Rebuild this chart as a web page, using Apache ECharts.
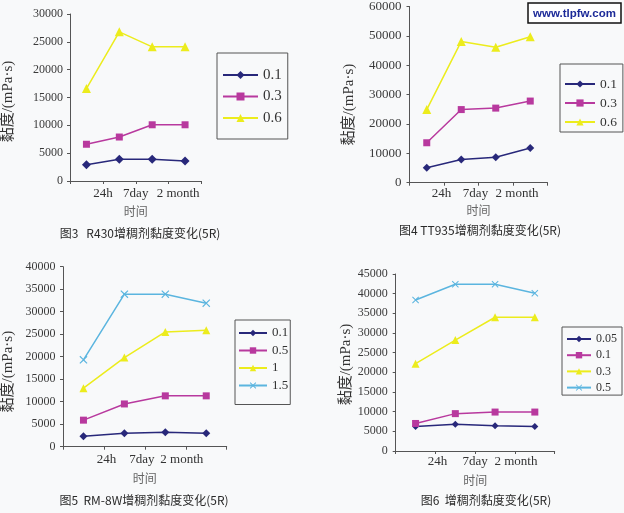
<!DOCTYPE html>
<html>
<head>
<meta charset="utf-8">
<script src="https://cdn.jsdelivr.net/npm/echarts@6/dist/echarts.min.js"></script>
<style>
  html, body { margin: 0; padding: 0; background: #f8f9fa; }
  #main { width: 624px; height: 513px; }
</style>
</head>
<body>
<div id="main"></div>
<script>
// 横轴刻度文字（四个时间点）
const xTickLabels = ['24h', '7day', '2 month', '']

// 图3 R430
const r430Names = ['0.1', '0.3', '0.6']
const r430_01 = [2900, 3900, 3900, 3600]
const r430_03 = [6600, 7900, 10100, 10100]
const r430_06 = [16600, 26800, 24100, 24100]

// 图4 TT935
const tt935Names = ['0.1', '0.3', '0.6']
const tt935_01 = [5100, 7900, 8700, 11800]
const tt935_03 = [13600, 24900, 25400, 27800]
const tt935_06 = [24900, 48100, 46100, 49700]

// 图5 RM-8W
const rm8wNames = ['0.1', '0.5', '1', '1.5']
const rm8w_01 = [2300, 3000, 3200, 3000]
const rm8w_05 = [5900, 9500, 11300, 11300]
const rm8w_1 = [13000, 19800, 25500, 25900]
const rm8w_15 = [19300, 33900, 33900, 31900]

// 图6
const fig6Names = ['0.05', '0.1', '0.3', '0.5']
const fig6_005 = [6200, 6800, 6400, 6200]
const fig6_01 = [7000, 9500, 9900, 9900]
const fig6_03 = [22200, 28200, 34000, 34000]
const fig6_05 = [38400, 42400, 42400, 40100]

// 纵轴范围
const yMax = [30000, 60000, 40000, 45000]
const yStep = [5000, 10000, 5000, 5000]

const captions = ['图3   R430增稠剂黏度变化(5R)', '图4 TT935增稠剂黏度变化(5R)', '图5  RM-8W增稠剂黏度变化(5R)', '图6  增稠剂黏度变化(5R)']

const SERIF = '"Liberation Serif", "DejaVu Serif", "Noto Sans CJK SC", serif'
const CJK = '"Noto Sans CJK SC", sans-serif'
const AXIS = '#555'
const NAVY = '#28287a'
const MAGENTA = '#b8399e'
const YELLOW = '#ecec1c'
const CYAN = '#5bb5df'
const CROSS = 'path://M0,1L1,0L5,4L9,0L10,1L6,5L10,9L9,10L5,6L1,10L0,9L4,5Z'

// 每个小图的布局；xShift 为横轴文字相对刻度线的偏移
const panels = [
  {
    grid: { left: 70, top: 14, width: 131.5, height: 167 },
    series: [
      { name: r430Names[0], data: r430_01, color: NAVY, symbol: 'diamond', size: 9 },
      { name: r430Names[1], data: r430_03, color: MAGENTA, symbol: 'rect', size: 7 },
      { name: r430Names[2], data: r430_06, color: YELLOW, symbol: 'triangle', size: 9 }
    ],
    yFont: 12, yMargin: 7, yNameGap: 54, yNameShift: 4,
    xMargin: 6, xNameGap: 24, xShift: [0, 0, 9.5],
    legend: { left: 217, top: 53, itemWidth: 35, itemHeight: 10, fontSize: 15, lineHeight: 16, itemGap: 5.5, padding: [14, 6, 13, 5] },
    caption: { x: 140, y: 233 }
  },
  {
    grid: { left: 409.5, top: 6, width: 138, height: 176.7 },
    series: [
      { name: tt935Names[0], data: tt935_01, color: NAVY, symbol: 'diamond', size: 8 },
      { name: tt935Names[1], data: tt935_03, color: MAGENTA, symbol: 'rect', size: 7 },
      { name: tt935Names[2], data: tt935_06, color: YELLOW, symbol: 'triangle', size: 9 }
    ],
    yFont: 13, yMargin: 8, yNameGap: 53, yNameShift: 10,
    xMargin: 4, xNameGap: 22, xShift: [-2.5, -3, 4],
    legend: { left: 560, top: 64, itemWidth: 30, itemHeight: 9, fontSize: 13.5, lineHeight: 14, itemGap: 5, padding: [13, 6, 3, 4] },
    caption: { x: 480, y: 230 }
  },
  {
    grid: { left: 62.7, top: 266.7, width: 164, height: 180 },
    series: [
      { name: rm8wNames[0], data: rm8w_01, color: NAVY, symbol: 'diamond', size: 8 },
      { name: rm8wNames[1], data: rm8w_05, color: MAGENTA, symbol: 'rect', size: 7 },
      { name: rm8wNames[2], data: rm8w_1, color: YELLOW, symbol: 'triangle', size: 8 },
      { name: rm8wNames[3], data: rm8w_15, color: CYAN, symbol: CROSS, size: 8 }
    ],
    yFont: 12, yMargin: 7.5, yNameGap: 47, yNameShift: 15,
    xMargin: 6, xNameGap: 26, xShift: [2.5, -3, -4],
    legend: { left: 235, top: 320, itemWidth: 28, itemHeight: 8, fontSize: 13, lineHeight: 14, itemGap: 3.5, padding: [6, 2, 12, 3] },
    caption: { x: 144, y: 500 }
  },
  {
    grid: { left: 395.7, top: 274, width: 159, height: 177 },
    series: [
      { name: fig6Names[0], data: fig6_005, color: NAVY, symbol: 'diamond', size: 7 },
      { name: fig6Names[1], data: fig6_01, color: MAGENTA, symbol: 'rect', size: 7 },
      { name: fig6Names[2], data: fig6_03, color: YELLOW, symbol: 'triangle', size: 8 },
      { name: fig6Names[3], data: fig6_05, color: CYAN, symbol: CROSS, size: 7 }
    ],
    yFont: 12, yMargin: 8, yNameGap: 41, yNameShift: 2,
    xMargin: 4, xNameGap: 23, xShift: [2, 0, 1],
    legend: { left: 562, top: 327, itemWidth: 24, itemHeight: 8, fontSize: 12, lineHeight: 13, itemGap: 3.2, padding: [5.5, 5, 1, 4] },
    caption: { x: 486, y: 500 }
  }
]

const grids = []
const xAxes = []
const yAxes = []
const seriesList = []
const legends = []
const graphics = []

panels.forEach((p, i) => {
  grids.push({ ...p.grid, containLabel: false })
  // 文字从类目中心挪到刻度线上
  const half = p.grid.width / 8
  const rich = {}
  p.xShift.forEach((s, k) => {
    const d = (half + s) * 2
    rich['l' + k] = {
      fontFamily: SERIF, fontSize: 13, color: '#333',
      padding: d >= 0 ? [0, 0, 0, d] : [0, -d, 0, 0]
    }
  })
  xAxes.push({
    type: 'category',
    gridIndex: i,
    data: xTickLabels,
    boundaryGap: true,
    axisLine: { lineStyle: { color: AXIS, width: 1 } },
    axisTick: { show: true, length: 3, lineStyle: { color: AXIS } },
    axisLabel: {
      interval: 0,
      color: '#333',
      fontFamily: SERIF,
      fontSize: 13,
      margin: p.xMargin,
      formatter: (v, idx) => (v ? '{l' + idx + '|' + v + '}' : ''),
      rich: rich
    },
    splitLine: { show: false },
    name: '时间',
    nameLocation: 'middle',
    nameGap: p.xNameGap,
    nameTextStyle: { color: '#666', fontSize: 12, fontFamily: CJK }
  })
  yAxes.push({
    type: 'value',
    gridIndex: i,
    min: 0,
    max: yMax[i],
    interval: yStep[i],
    axisLine: { show: true, lineStyle: { color: AXIS, width: 1 } },
    axisTick: { show: true, length: 3, lineStyle: { color: AXIS } },
    splitLine: { show: false },
    axisLabel: { color: '#3a3a3a', fontFamily: SERIF, fontSize: p.yFont, margin: p.yMargin, formatter: v => String(v) },
    name: '黏度/(mPa·s)',
    nameLocation: 'middle',
    nameGap: p.yNameGap,
    nameTextStyle: { color: '#333', fontSize: 15, fontFamily: SERIF, padding: [0, p.yNameShift * 2, 0, 0] }
  })
  p.series.forEach(s => {
    seriesList.push({
      type: 'line',
      name: 'p' + i + '|' + s.name,
      xAxisIndex: i,
      yAxisIndex: i,
      data: s.data,
      symbol: s.symbol,
      symbolSize: s.size,
      showAllSymbol: true,
      lineStyle: { color: s.color, width: 1.5 },
      itemStyle: { color: s.color },
      emphasis: { disabled: true },
      animation: false
    })
  })
  const lg = p.legend
  legends.push({
    orient: 'vertical',
    left: lg.left,
    top: lg.top,
    data: p.series.map(s => 'p' + i + '|' + s.name),
    formatter: n => n.split('|')[1],
    selectedMode: false,
    itemWidth: lg.itemWidth,
    itemHeight: lg.itemHeight,
    itemGap: lg.itemGap,
    padding: lg.padding,
    borderColor: '#555',
    borderWidth: 1,
    textStyle: { fontFamily: SERIF, fontSize: lg.fontSize, lineHeight: lg.lineHeight, color: '#333' }
  })
  graphics.push({
    type: 'text',
    x: p.caption.x,
    y: p.caption.y,
    style: { text: captions[i], align: 'center', verticalAlign: 'middle', font: '12px "Noto Sans CJK SC", sans-serif', fill: '#2a2a2a' }
  })
})

// 右上角水印
graphics.push({
  type: 'group',
  children: [
    { type: 'rect', shape: { x: 528, y: 3, width: 93, height: 20 }, style: { fill: '#fff', stroke: '#111', lineWidth: 1.5 } },
    { type: 'text', x: 574.5, y: 13.5, style: { text: 'www.tlpfw.com', align: 'center', verticalAlign: 'middle', font: 'bold 11.5px "Liberation Sans", Arial, sans-serif', fill: '#1c2a98' } }
  ]
})

const chart = echarts.init(document.getElementById('main'))
chart.setOption({
  backgroundColor: '#f8f9fa',
  animation: false,
  grid: grids,
  xAxis: xAxes,
  yAxis: yAxes,
  legend: legends,
  series: seriesList,
  graphic: graphics
})
</script>
</body>
</html>
